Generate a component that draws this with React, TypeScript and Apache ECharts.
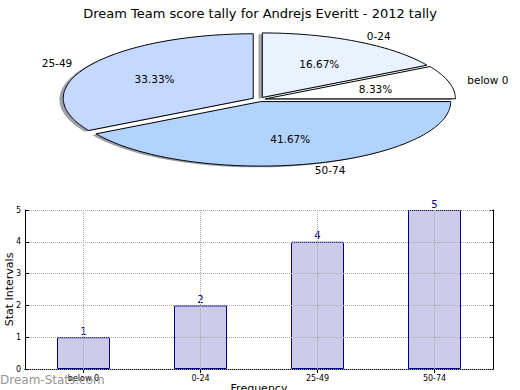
import React, { useEffect, useRef } from "react";
import * as echarts from "echarts";

const titleText = "Dream Team score tally for Andrejs Everitt - 2012 tally";
const pieLabels = ["below 0", "0-24", "25-49", "50-74"];
const pieValues = [1, 2, 4, 5];
const pieColors = ["#ffffff", "#eaf1ff", "#c5d8ff", "#b3d3ff"];
const barCategories = ["below 0", "0-24", "25-49", "50-74"];
const barValues = [1, 2, 4, 5];

const FONT = '"DejaVu Sans", "Liberation Sans", sans-serif';

// pie geometry (layout)
const CX = 259;
const CY = 99.4;
const RX = 190;
const RY = 64.5;
const EXPLODE = 0.035;

function hexToRgb(h: string) {
  const n = parseInt(h.slice(1), 16);
  return [(n >> 16) & 255, (n >> 8) & 255, n & 255];
}

function sliceGeom(i: number) {
  const total = pieValues.reduce((a, b) => a + b, 0);
  let start = 0;
  for (let k = 0; k < i; k++) start += (pieValues[k] / total) * 360;
  const end = start + (pieValues[i] / total) * 360;
  const mid = ((start + end) / 2) * (Math.PI / 180);
  const ox = EXPLODE * RX * Math.cos(mid);
  const oy = -EXPLODE * RY * Math.sin(mid);
  const cx = CX + ox;
  const cy = CY + oy;
  const pts: number[][] = [[cx, cy]];
  const steps = Math.max(8, Math.ceil(end - start));
  for (let s = 0; s <= steps; s++) {
    const a = (start + ((end - start) * s) / steps) * (Math.PI / 180);
    pts.push([cx + RX * Math.cos(a), cy - RY * Math.sin(a)]);
  }
  return { pts, cx, cy, mid, total };
}

export default function App() {
  const ref = useRef<HTMLDivElement>(null);
  useEffect(() => {
    if (!ref.current) return;
    const chart = echarts.init(ref.current, null, { renderer: "svg" });
    const option: any = {
      animation: false,
      backgroundColor: "#ffffff",
      textStyle: { fontFamily: FONT },
      title: {
        text: titleText,
        left: "center",
        top: 2,
        textStyle: { fontFamily: FONT, fontSize: 13, fontWeight: "normal", color: "#000" },
      },
      graphic: [
        {
          type: "text",
          left: 0,
          top: 374,
          z: 100,
          style: {
            text: "Dream-Stats.com",
            fill: "rgba(120,120,120,0.8)",
            font: "12px " + FONT,
          },
        },
      ],
      grid: {
        left: 25,
        top: 210,
        width: 468,
        height: 159,
        containLabel: false,
        outerBoundsMode: "none",
      },
      xAxis: [
        {
          type: "category",
          data: barCategories,
          position: "bottom",
          name: "Frequency",
          nameLocation: "middle",
          nameGap: 14,
          nameMoveOverlap: false,
          nameTextStyle: { fontFamily: FONT, fontSize: 11, color: "#000" },
          axisLine: { show: true, lineStyle: { color: "#000", width: 1 } },
          axisTick: { show: true, inside: true, alignWithLabel: true, length: 4, lineStyle: { color: "#000" } },
          axisLabel: { fontFamily: FONT, fontSize: 8, color: "#000", margin: 5 },
          splitLine: { show: false },
        },
        {
          type: "category",
          data: barCategories,
          position: "top",
          axisLine: { show: true, lineStyle: { color: "#000", width: 1 } },
          axisTick: { show: true, inside: true, alignWithLabel: true, length: 4, lineStyle: { color: "#000" } },
          axisLabel: { show: false },
          splitLine: { show: false },
        },
      ],
      yAxis: [
        {
          type: "value",
          min: 0,
          max: 5,
          interval: 1,
          position: "left",
          z: 3,
          name: "Stat Intervals",
          nameLocation: "middle",
          nameGap: 10,
          nameMoveOverlap: false,
          nameTextStyle: { fontFamily: FONT, fontSize: 11, color: "#000" },
          axisLine: { show: true, lineStyle: { color: "#000", width: 1 } },
          axisTick: { show: true, inside: true, length: 4, lineStyle: { color: "#000" } },
          axisLabel: { fontFamily: FONT, fontSize: 8, color: "#000", margin: 4 },
          splitLine: { show: true, lineStyle: { type: "dotted", color: "#a8a8a8", width: 1 } },
        },
        {
          type: "value",
          min: 0,
          max: 5,
          interval: 1,
          position: "right",
          axisLine: { show: true, lineStyle: { color: "#000", width: 1 } },
          axisTick: { show: true, inside: true, length: 4, lineStyle: { color: "#000" } },
          axisLabel: { show: false },
          splitLine: { show: false },
        },
      ],
      series: [
        {
          type: "bar",
          xAxisIndex: 0,
          yAxisIndex: 0,
          data: barValues,
          barWidth: 53,
          z: 2,
          itemStyle: { color: "#ccccea", borderColor: "#000080", borderWidth: 1 },
          label: {
            show: true,
            position: "top",
            distance: 1,
            color: "#000080",
            fontFamily: FONT,
            fontSize: 10,
          },
          markLine: {
            silent: true,
            symbol: "none",
            label: { show: false },
            lineStyle: { type: "dotted", color: "#a8a8a8", width: 1 },
            data: barCategories.map((c) => ({ xAxis: c })),
          },
        },
        {
          type: "custom",
          coordinateSystem: "none",
          data: pieValues,
          z: 1,
          silent: true,
          renderItem: (params: any) => {
            const { pts } = sliceGeom(params.dataIndex);
            const [r, g, b] = hexToRgb(pieColors[params.dataIndex]);
            const sp = pts.map((p) => [p[0] - 0.02 * RX, p[1] + 0.02 * RY]);
            return {
              type: "polygon",
              shape: { points: sp },
              style: {
                fill: `rgba(${Math.round(r * 0.3)},${Math.round(g * 0.3)},${Math.round(b * 0.3)},0.5)`,
                stroke: "none",
              },
            };
          },
        },
        {
          type: "custom",
          coordinateSystem: "none",
          data: pieValues,
          z: 3,
          silent: true,
          renderItem: (params: any) => {
            const i = params.dataIndex;
            const { pts, cx, cy, mid, total } = sliceGeom(i);
            const lx = cx + 1.1 * RX * Math.cos(mid);
            const ly = cy - 1.1 * RY * Math.sin(mid);
            const px = cx + 0.6 * RX * Math.cos(mid);
            const py = cy - 0.6 * RY * Math.sin(mid);
            return {
              type: "group",
              children: [
                {
                  type: "polygon",
                  shape: { points: pts },
                  style: { fill: pieColors[i], stroke: "#000", lineWidth: 1 },
                },
                {
                  type: "text",
                  x: lx,
                  y: ly,
                  style: {
                    text: pieLabels[i],
                    fill: "#000",
                    font: "10.5px " + FONT,
                    align: Math.cos(mid) >= 0 ? "left" : "right",
                    verticalAlign: "middle",
                  },
                },
                {
                  type: "text",
                  x: px,
                  y: py,
                  style: {
                    text: ((pieValues[i] / total) * 100).toFixed(2) + "%",
                    fill: "#000",
                    font: "10.5px " + FONT,
                    align: "center",
                    verticalAlign: "middle",
                  },
                },
              ],
            };
          },
        },
      ],
    };
    chart.setOption(option);
    return () => chart.dispose();
  }, []);
  return (
    <div
      ref={ref}
      style={{ position: "fixed", left: 0, top: 0, width: 520, height: 390, background: "#fff" }}
    />
  );
}
